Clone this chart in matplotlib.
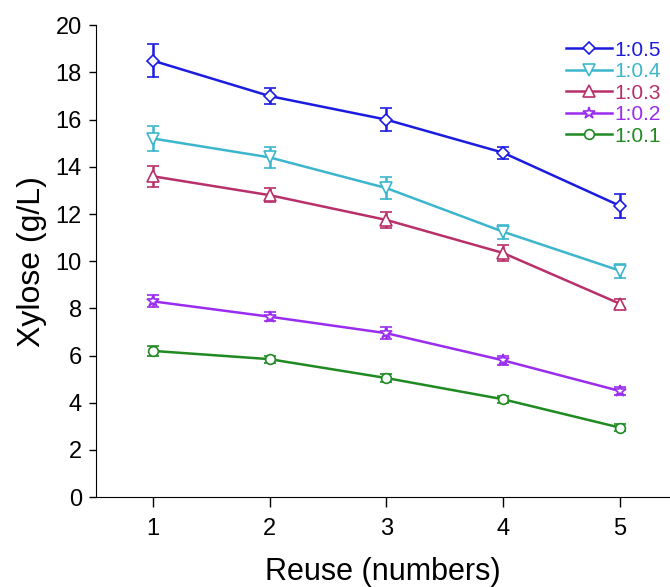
import matplotlib.pyplot as plt
from matplotlib.lines import Line2D

plt.rcParams['font.family'] = ['Liberation Sans', 'DejaVu Sans']

# Dados
reuse = [1, 2, 3, 4, 5]

x05 = [18.5, 17.0, 16.0, 14.6, 12.35]
e05 = [0.7, 0.35, 0.5, 0.25, 0.5]
x04 = [15.2, 14.4, 13.1, 11.25, 9.6]
e04 = [0.55, 0.45, 0.45, 0.3, 0.3]
x03 = [13.6, 12.8, 11.75, 10.35, 8.2]
e03 = [0.45, 0.3, 0.35, 0.35, 0.2]
x02 = [8.3, 7.65, 6.95, 5.8, 4.5]
e02 = [0.25, 0.2, 0.25, 0.2, 0.15]
x01 = [6.2, 5.85, 5.05, 4.15, 2.95]
e01 = [0.2, 0.15, 0.15, 0.15, 0.15]

labels = ['1:0.5', '1:0.4', '1:0.3', '1:0.2', '1:0.1']
colors = ['#1c1ce0', '#3cb6cc', '#b8306a', '#9a2cf0', '#1f8a22']
markers = ['D', 'v', '^', '*', 'o']
msizes = [6, 8, 8, 9, 7]

fig = plt.figure(figsize=(6.7, 5.87), dpi=100)
ax = fig.add_axes([0.143, 0.153, 0.857, 0.804])

series = [(x05, e05), (x04, e04), (x03, e03), (x02, e02), (x01, e01)]
handles = []
for (y, e), lab, c, m, ms in zip(series, labels, colors, markers, msizes):
    ax.errorbar(reuse, y, yerr=e, color=c, marker=m, markersize=ms,
                markerfacecolor='white', markeredgecolor=c, markeredgewidth=1.2,
                linewidth=1.8, capsize=4, capthick=1.8, elinewidth=1.8)
    handles.append(Line2D([], [], color=c, marker=m, markersize=ms,
                          markerfacecolor='white', markeredgecolor=c,
                          markeredgewidth=1.2, linewidth=1.8, label=lab))

ax.set_xlim(0.512, 5.43)
ax.set_ylim(0, 20)
ax.set_xticks(reuse)
ax.set_yticks(range(0, 21, 2))
ax.spines['top'].set_visible(False)
ax.spines['right'].set_visible(False)
ax.tick_params(axis='x', direction='out', labelsize=17, width=1, length=7, pad=8)
ax.tick_params(axis='y', direction='out', labelsize=17, width=1, length=5, pad=5)
ax.set_xlabel('Reuse (numbers)', fontsize=22, labelpad=12)
ax.set_ylabel('Xylose (g/L)', fontsize=23, labelpad=6)

leg = ax.legend(handles=handles, loc='upper right', frameon=False, fontsize=15,
                handlelength=2.2, handletextpad=0.1, labelspacing=0.12,
                borderaxespad=0.0, bbox_to_anchor=(0.998, 0.985))
for txt, c in zip(leg.get_texts(), colors):
    txt.set_color(c)

fig.savefig('out.png', dpi=100)
